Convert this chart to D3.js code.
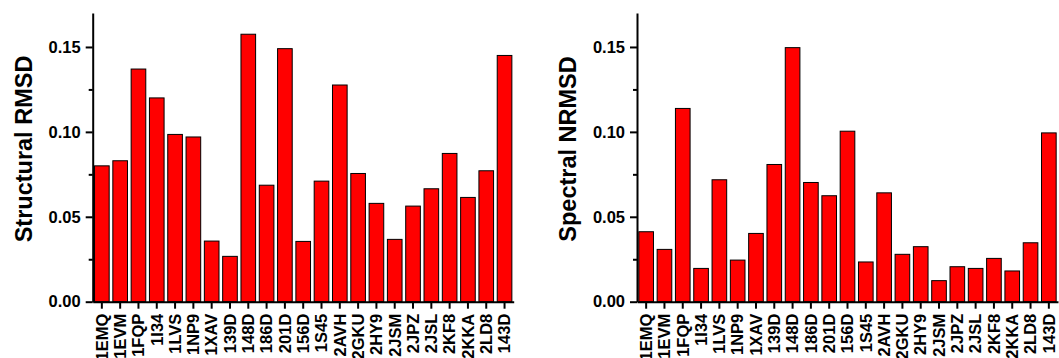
<!DOCTYPE html>
<html>
<head>
<meta charset="utf-8">
<script src="https://cdn.jsdelivr.net/npm/d3@7"></script>
<style>
  body { margin: 0; background: #fff; }
</style>
</head>
<body>
<div class="canvas"></div>
<script>
// Data
const categories = ['1EMQ', '1EVM', '1FQP', '1I34', '1LVS', '1NP9', '1XAV', '139D', '148D', '186D',
                    '201D', '156D', '1S45', '2AVH', '2GKU', '2HY9', '2JSM', '2JPZ', '2JSL', '2KF8',
                    '2KKA', '2LD8', '143D'];
const structuralRMSD = [0.080, 0.083, 0.137, 0.120, 0.0985, 0.097, 0.0357, 0.0267, 0.1575, 0.0686,
                        0.149, 0.0355, 0.071, 0.1276, 0.0755, 0.0579, 0.0367, 0.0563, 0.0665, 0.0873,
                        0.0614, 0.0771, 0.145];
const spectralNRMSD = [0.0412, 0.0308, 0.1138, 0.0196, 0.0718, 0.0245, 0.0402, 0.0808, 0.1496, 0.0702,
                       0.0624, 0.1004, 0.0234, 0.0641, 0.0279, 0.0324, 0.0124, 0.0206, 0.0196, 0.0255,
                       0.0181, 0.0347, 0.0994];
const majorTicks = [0, 0.05, 0.10, 0.15];
const minorTicks = [0.025, 0.075, 0.125];

const FONT = '"Liberation Sans", Arial, sans-serif';

const svg = d3.select('.canvas')
              .append('svg')
              .attr('width', 1059)
              .attr('height', 358);

const graphHeight = 288.7;
const graphWidth = 421;

function styleText(sel, size) {
    sel.style('font-family', FONT)
       .style('font-weight', 'bold')
       .style('font-size', size + 'px')
       .attr('fill', '#000');
}

// one panel per series
function drawPanel(left, values, title) {
    const graph = svg.append('g')
                     .attr('transform', `translate(${left}, 13)`);

    const y = d3.scaleLinear()
                .domain([0, 0.17])
                .range([graphHeight, 0]);

    const x = d3.scaleBand()
                .domain(categories)
                .range([0, graphWidth])
                .paddingInner(0.2)
                .paddingOuter(0.1);

    graph.selectAll('rect')
         .data(values)
         .enter()
         .append('rect')
         .attr('x', (d, i) => x(categories[i]))
         .attr('y', d => y(d))
         .attr('width', x.bandwidth())
         .attr('height', d => graphHeight - y(d))
         .attr('fill', '#ff0000')
         .attr('stroke', '#000')
         .attr('stroke-width', 1);

    // minor ticks
    const minorAxis = d3.axisLeft(y)
                        .tickValues(minorTicks)
                        .tickSize(4)
                        .tickFormat('');
    graph.append('g').call(minorAxis)
         .call(g => g.select('.domain').remove())
         .selectAll('line').attr('stroke-width', 2);

    const yAxis = d3.axisLeft(y)
                    .tickValues(majorTicks)
                    .tickSize(7)
                    .tickSizeOuter(0)
                    .tickPadding(5)
                    .tickFormat(d3.format('.2f'));
    const yAxisGroup = graph.append('g').call(yAxis);
    yAxisGroup.select('.domain').attr('stroke-width', 2);
    yAxisGroup.selectAll('line').attr('stroke-width', 2);
    styleText(yAxisGroup.selectAll('text'), 16.5);

    const xAxis = d3.axisBottom(x)
                    .tickSize(7)
                    .tickSizeOuter(0);
    const xAxisGroup = graph.append('g')
                            .attr('transform', `translate(0, ${graphHeight})`)
                            .call(xAxis);
    xAxisGroup.select('.domain').attr('stroke-width', 2);
    xAxisGroup.selectAll('line').attr('stroke-width', 2);
    styleText(xAxisGroup.selectAll('text'), 16.5);
    xAxisGroup.selectAll('text')
              .attr('transform', 'rotate(-90)')
              .attr('text-anchor', 'end')
              .attr('x', -12)
              .attr('y', 0)
              .attr('dy', '0.35em');

    const label = svg.append('text')
       .attr('transform', `translate(${left - 61}, 149) rotate(-90)`)
       .attr('text-anchor', 'middle')
       .text(title);
    styleText(label, 23.5);
}

drawPanel(92.7, structuralRMSD, 'Structural RMSD');
drawPanel(637, spectralNRMSD, 'Spectral NRMSD');
</script>
</body>
</html>
